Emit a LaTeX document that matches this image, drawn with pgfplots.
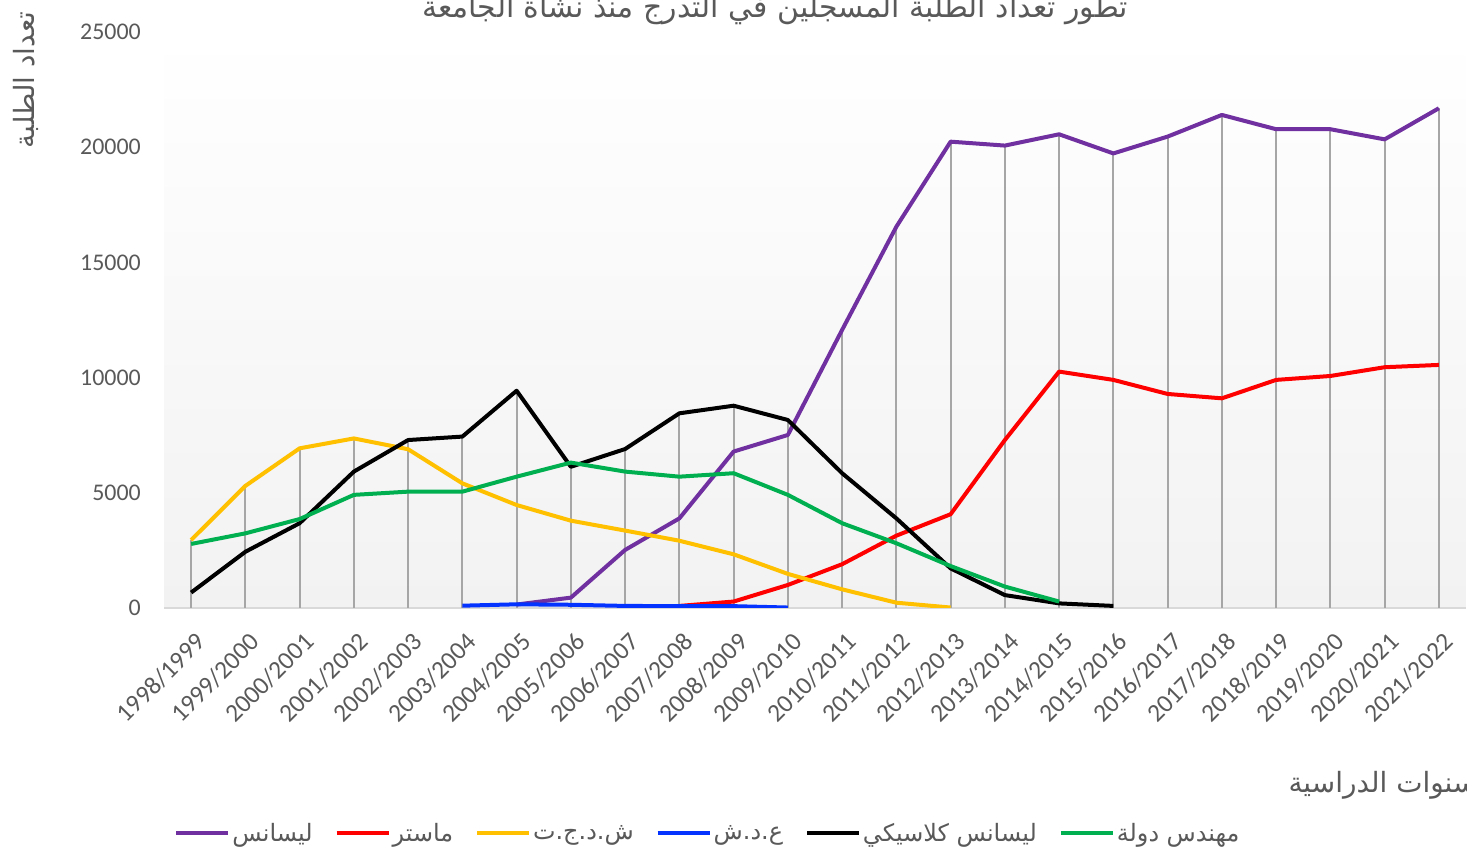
\documentclass[border=0pt]{standalone}
\usepackage{pgfplots}
\pgfplotsset{compat=1.18}
\usepackage{fontspec}
\setmainfont{Carlito}
\newfontfamily\arabicfont[Script=Arabic]{DejaVu Sans}
\TeXXeTstate=1
\definecolor{cPurple}{HTML}{7030A0}
\definecolor{cRed}{HTML}{FF0000}
\definecolor{cYellow}{HTML}{FFC000}
\definecolor{cBlue}{HTML}{0433FF}
\definecolor{cGreen}{HTML}{00B050}
\definecolor{txt}{HTML}{595959}
\definecolor{axisgray}{HTML}{D9D9D9}
\definecolor{dropgray}{HTML}{A6A6A6}
\definecolor{bggray}{HTML}{F2F2F2}

\begin{document}
\begin{tikzpicture}
\begin{axis}[
  at={(164bp,244bp)}, anchor=south west,
  scale only axis, width=1302bp, height=576bp,
  xmin=-0.5, xmax=23.5, ymin=0, ymax=25000,
  axis x line*=bottom, axis y line*=left,
  x axis line style={draw=axisgray, line width=1.5bp, -},
  y axis line style={draw=none, -},
  xtick={0,...,23},
  xticklabels={1998/1999,1999/2000,2000/2001,2001/2002,2002/2003,2003/2004,2004/2005,2005/2006,2006/2007,2007/2008,2008/2009,2009/2010,2010/2011,2011/2012,2012/2013,2013/2014,2014/2015,2015/2016,2016/2017,2017/2018,2018/2019,2019/2020,2020/2021,2021/2022},
  ytick={0,5000,10000,15000,20000,25000},
  major tick length=0pt,
  scaled y ticks=false,
  /pgf/number format/assume math mode=true,
  /pgf/number format/set thousands separator={},
  yticklabel style={font=\fontsize{24}{24}\selectfont, text=txt, anchor=east, inner sep=0pt, xshift=-23bp},
  xticklabel style={font=\fontsize{25.5}{25.5}\selectfont, text=txt, xshift=3bp, yshift=-23bp, rotate=45, anchor=north east, inner sep=0pt},
  axis background/.style={top color=white, bottom color=bggray},
  legend style={at={(0.4178,-0.3906)}, anchor=center, draw=none, fill=none,
    font=\fontsize{24}{24}\selectfont\arabicfont, text=txt,
    /tikz/every even column/.append style={column sep=20bp}},
  legend columns=6,
  legend image code/.code={\draw[#1, line width=4bp] (0bp,0bp) -- (52bp,0bp);},
]
% drop lines (max of all series per year)
\addplot[ycomb, draw=dropgray, line width=2bp, forget plot] coordinates {
(0,2950)(1,5300)(2,6930)(3,7360)(4,7290)(5,7440)(6,9430)(7,6310)(8,6900)(9,8450)(10,8780)(11,8160)(12,12070)(13,16550)(14,20240)(15,20070)(16,20560)(17,19730)(18,20460)(19,21400)(20,20780)(21,20780)(22,20340)(23,21690)};

\addplot[cPurple, line width=4bp, line join=round] coordinates {
(6,150)(7,450)(8,2520)(9,3890)(10,6790)(11,7510)(12,12070)(13,16550)(14,20240)(15,20070)(16,20560)(17,19730)(18,20460)(19,21400)(20,20780)(21,20780)(22,20340)(23,21690)};
\addlegendentry{\arabicfont\beginR ليسانس\endR}

\addplot[cRed, line width=4bp, line join=round] coordinates {
(9,90)(10,280)(11,1000)(12,1900)(13,3140)(14,4070)(15,7290)(16,10260)(17,9900)(18,9290)(19,9100)(20,9900)(21,10070)(22,10450)(23,10550)};
\addlegendentry{\arabicfont\beginR ماستر\endR}

\addplot[cYellow, line width=4bp, line join=round] coordinates {
(0,2950)(1,5300)(2,6930)(3,7360)(4,6890)(5,5410)(6,4470)(7,3790)(8,3360)(9,2920)(10,2330)(11,1480)(12,810)(13,230)(14,20)};
\addlegendentry{\arabicfont\beginR ش.د.ج.ت\endR}

\addplot[cBlue, line width=4bp, line join=round] coordinates {
(5,100)(6,160)(7,140)(8,90)(9,80)(10,80)(11,20)};
\addlegendentry{\arabicfont\beginR ع.د.ش\endR}

\addplot[black, line width=4bp, line join=round] coordinates {
(0,670)(1,2440)(2,3680)(3,5920)(4,7290)(5,7440)(6,9430)(7,6130)(8,6900)(9,8450)(10,8780)(11,8160)(12,5850)(13,3890)(14,1720)(15,560)(16,200)(17,90)};
\addlegendentry{\arabicfont\beginR ليسانس كلاسيكي\endR}

\addplot[cGreen, line width=4bp, line join=round] coordinates {
(0,2780)(1,3240)(2,3860)(3,4910)(4,5050)(5,5050)(6,5700)(7,6310)(8,5920)(9,5700)(10,5850)(11,4910)(12,3680)(13,2810)(14,1820)(15,930)(16,280)};
\addlegendentry{\arabicfont\beginR مهندس دولة\endR}
\end{axis}

\node[font=\fontsize{30}{30}\selectfont\arabicfont, text=txt, anchor=base] at (775bp,834bp)
  {\beginR تطور تعداد الطلبة المسجلين في التدرج منذ نشأة الجامعة\endR};
\node[rotate=90, font=\fontsize{28}{28}\selectfont\arabicfont, text=txt] at (26bp,772bp)
  {\beginR تعداد الطلبة\endR};
\node[anchor=west, font=\fontsize{28}{28}\selectfont\arabicfont, text=txt] at (1285bp,67bp)
  {\beginR سنوات الدراسية\endR};

\pgfresetboundingbox
\useasboundingbox (0bp,0bp) rectangle (1467bp,852bp);
\end{tikzpicture}
\end{document}
